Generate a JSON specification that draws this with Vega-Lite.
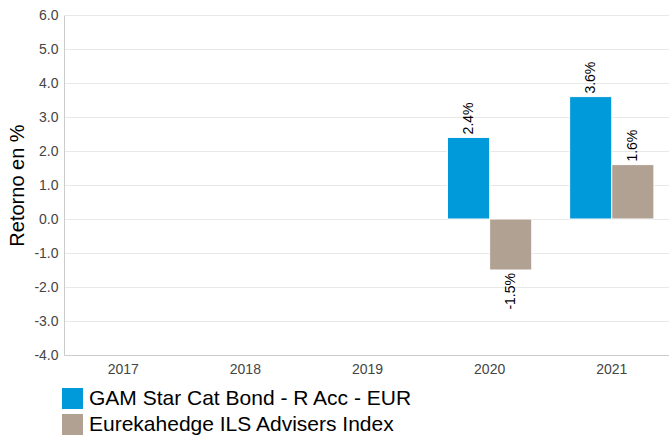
{
  "$schema": "https://vega.github.io/schema/vega-lite/v6.json",
  "autosize": "none",
  "width": 607,
  "height": 340,
  "padding": {"left": 64, "top": 15, "right": 0, "bottom": 82},
  "config": {
    "font": "Liberation Sans",
    "view": {"stroke": null}
  },
  "data": {
    "values": [
      {"year": "2020", "series": "GAM Star Cat Bond - R Acc - EUR", "value": 2.4},
      {"year": "2020", "series": "Eurekahedge ILS Advisers Index", "value": -1.5},
      {"year": "2021", "series": "GAM Star Cat Bond - R Acc - EUR", "value": 3.6},
      {"year": "2021", "series": "Eurekahedge ILS Advisers Index", "value": 1.6}
    ]
  },
  "encoding": {
    "x": {
      "field": "year", "type": "nominal",
      "scale": {"domain": ["2017", "2018", "2019", "2020", "2021"], "paddingInner": 0.31, "paddingOuter": 0.14},
      "axis": {"title": null, "labelAngle": 0, "labelFontSize": 14, "labelColor": "#444444", "ticks": false, "domainColor": "#cccccc", "labelPadding": 7, "grid": false}
    },
    "xOffset": {"field": "series", "type": "nominal", "sort": ["GAM Star Cat Bond - R Acc - EUR", "Eurekahedge ILS Advisers Index"]},
    "y": {
      "field": "value", "type": "quantitative",
      "scale": {"domain": [-4, 6], "nice": false},
      "axis": {"title": "Retorno en %", "titleFontSize": 20, "titleFontWeight": "normal", "titleColor": "#000000", "titlePadding": 6,
        "labelExpr": "datum.value < 0 ? '-' + format(-datum.value, '.1f') : format(datum.value, '.1f')",
        "values": [-4,-3,-2,-1,0,1,2,3,4,5,6], "labelFontSize": 14, "labelColor": "#444444", "ticks": false, "domainColor": "#cccccc", "gridColor": "#e8e8e8", "labelPadding": 6}
    }
  },
  "layer": [
    {
      "mark": {"type": "bar", "stroke": "#ffffff", "strokeWidth": 1},
      "encoding": {
        "color": {
          "field": "series", "type": "nominal",
          "scale": {"domain": ["GAM Star Cat Bond - R Acc - EUR", "Eurekahedge ILS Advisers Index"], "range": ["#0099da", "#b1a192"]},
          "legend": {"title": null, "orient": "none", "legendX": -2, "legendY": 373, "direction": "vertical", "symbolType": "square", "symbolSize": 441, "symbolStrokeWidth": 0, "labelFontSize": 21, "labelColor": "#000000", "labelLimit": 600, "rowPadding": 4, "labelOffset": 6}
        }
      }
    },
    {
      "mark": {"type": "text", "angle": -90, "fontSize": 14, "color": "#000000", "baseline": "middle",
        "text": {"expr": "(datum.value < 0 ? '-' + format(-datum.value, '.1f') : format(datum.value, '.1f')) + '%'"},
        "align": {"expr": "datum.value < 0 ? 'right' : 'left'"},
        "dx": {"expr": "datum.value < 0 ? -3 : 3"}}
    }
  ]
}
